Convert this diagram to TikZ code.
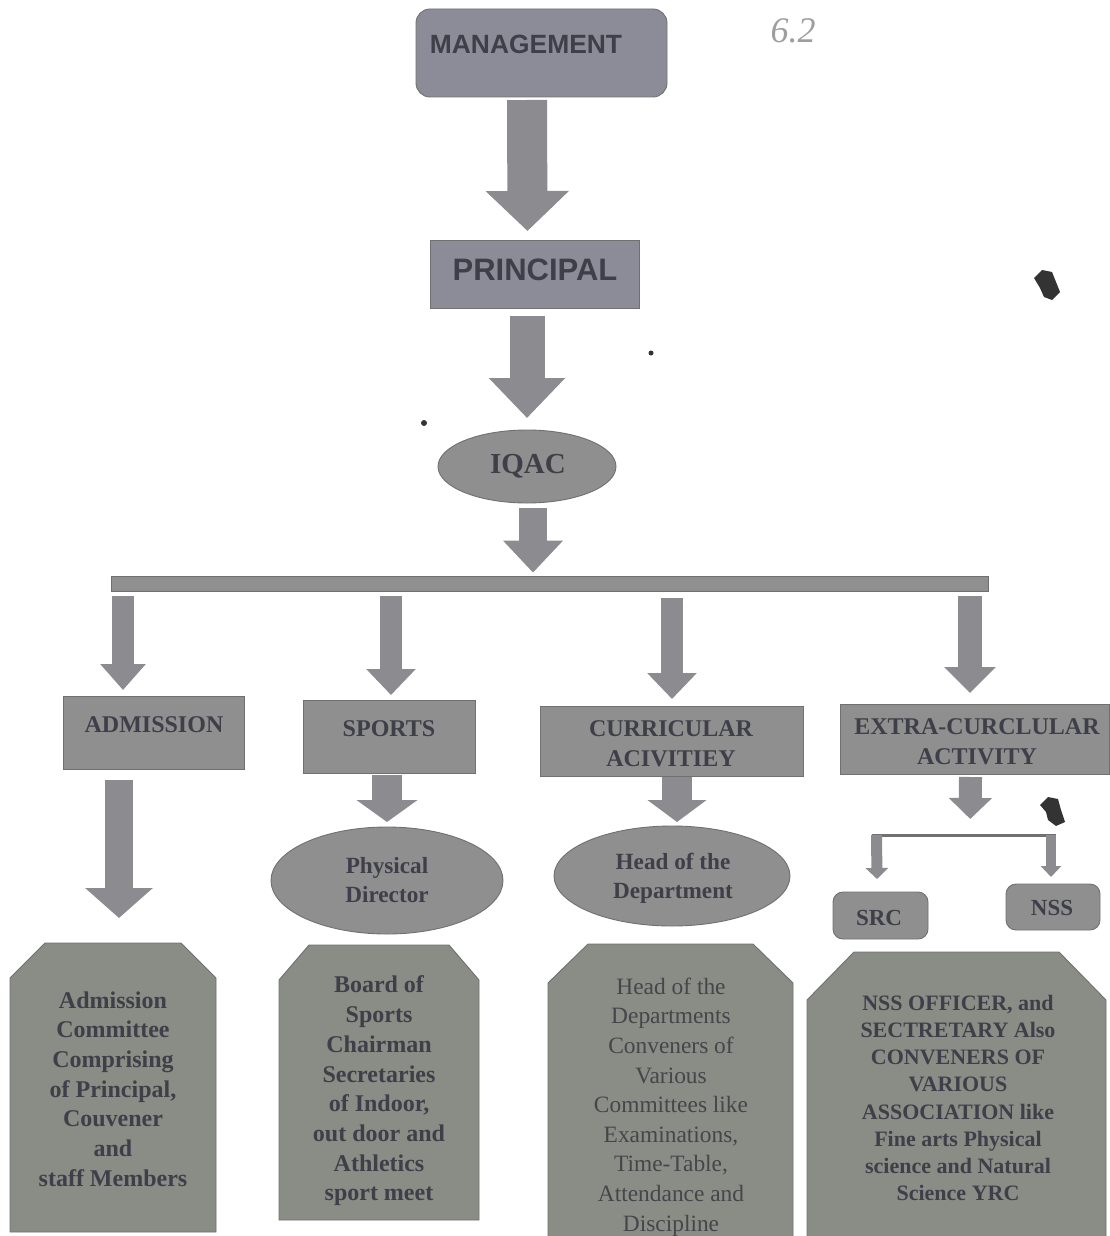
\documentclass[tikz,border=0pt]{standalone}
\usepackage{fontspec}
\setmainfont{Liberation Serif}
\newfontfamily\arialfont{Liberation Sans}
\usetikzlibrary{arrows.meta,calc,shapes.geometric}
\definecolor{mgfill}{HTML}{8C8C98}
\definecolor{boxfill}{HTML}{8F8F8F}
\definecolor{slabfill}{HTML}{8A8C86}
\definecolor{edgegray}{HTML}{707070}
\definecolor{arrowgray}{HTML}{8B8B90}
\definecolor{inkdark}{HTML}{3E3F48}
\definecolor{inkmid}{HTML}{45464A}
\tikzset{
  shp/.style={draw=edgegray,line width=0.45pt,inner sep=0pt,outer sep=0pt,text=inkdark},
  sq/.style n args={2}{shp,rectangle,fill=boxfill,minimum width=#1,minimum height=#2},
  rnd/.style n args={2}{shp,rectangle,rounded corners=5pt,fill=boxfill,minimum width=#1,minimum height=#2},
  oval/.style n args={2}{shp,ellipse,fill=boxfill,minimum width=#1,minimum height=#2},
  slabframe/.style n args={2}{rectangle,inner sep=0pt,outer sep=0pt,minimum width=#1,minimum height=#2},
  slabface/.style={draw=edgegray,line width=0.45pt,fill=slabfill},
  blk/.style n args={3}{draw=arrowgray,line width=#1,-{Triangle[width=#2,length=#3,fill=arrowgray]}},
  tbold/.style={text=inkdark,align=center,inner sep=0pt,font=\fontsize{12}{14.85}\selectfont\bfseries},
  treg/.style={text=inkmid,align=center,inner sep=0pt,font=\fontsize{11.7}{14.8}\selectfont},
  tsans/.style={text=inkdark,align=center,inner sep=0pt},
  blot/.style={fill=black!80,draw=none}
}
% tablet outline round a named frame: cut x, cut y in picture units
\newcommand{\slabface}[3]{%
  \path[slabface] (#1.south west) -- ($(#1.north west)+(0,#3)$) -- ($(#1.north west)+(#2,0)$)
     -- ($(#1.north east)+(-#2,0)$) -- ($(#1.north east)+(0,#3)$) -- (#1.south east) -- cycle;}
\begin{document}
\begin{tikzpicture}[x=0.5pt,y=-0.5pt]
\useasboundingbox (0,0) rectangle (1109,1236);
% top chain
\node[rnd={125.5pt}{44pt},fill=mgfill,rounded corners=7pt] (mgmt) at (541.5,53) {};
\node[tsans,font=\fontsize{13.2}{16}\selectfont\arialfont\bfseries] (mgmttxt) at (526,44) {MANAGEMENT};
\node[sq={104.5pt}{34pt},fill=mgfill] (princ) at (534.5,274) {};
\node[tsans,font=\fontsize{15.5}{18}\selectfont\arialfont\bfseries] (princtxt) at (535,270) {PRINCIPAL};
\node[oval={89pt}{36.5pt}] (iqac) at (527,466.5) {};
\node[tbold,font=\fontsize{14.5}{17}\selectfont\bfseries] (iqactxt) at (528,466) {IQAC};
\node[rectangle,fill=boxfill,draw=edgegray,line width=0.4pt,inner sep=0pt,minimum width=438.5pt,minimum height=7.5pt] (bar) at (549.5,583.5) {};
% headers
\node[sq={90.5pt}{36.5pt}] (adm) at (153.5,732.5) {};
\node[tbold] (admtxt) at (154,725) {ADMISSION};
\node[sq={86pt}{36.5pt}] (spo) at (389,736.5) {};
\node[tbold] (spotxt) at (389,729) {SPORTS};
\node[sq={131.5pt}{35pt}] (cur) at (671.5,741) {};
\node[tbold] (curtxt) at (671,744) {CURRICULAR\\ACIVITIEY};
\node[sq={134.5pt}{35pt}] (ext) at (974.5,739) {};
\node[tbold] (exttxt) at (977,742) {EXTRA-CURCLULAR\\ACTIVITY};
% second row
\node[oval={116pt}{53.5pt}] (phy) at (387,880.5) {};
\node[tbold,font=\fontsize{11.6}{14.5}\selectfont\bfseries] (phytxt) at (387,880) {Physical\\Director};
\node[oval={118pt}{50pt}] (hod) at (672,876) {};
\node[tbold,font=\fontsize{11.6}{14.5}\selectfont\bfseries] (hodtxt) at (673,878) {Head of the\\Department};
\node[rnd={47.5pt}{23.5pt}] (src) at (880.5,915.5) {};
\node[tbold,font=\fontsize{11.5}{14}\selectfont\bfseries] (srctxt) at (879,918) {SRC};
\node[rnd={47pt}{23pt}] (nss) at (1053,907) {};
\node[tbold,font=\fontsize{11.5}{14}\selectfont\bfseries] (nsstxt) at (1052,908) {NSS};
\coordinate (srctop) at (876.5,835);
\coordinate (nsstop) at (1051,835);
% tablets
\node[slabframe={103pt}{144.5pt}] (sa) at (113,1087.5) {};
\slabface{sa}{35}{35}
\node[tbold] (satxt) at (113,1089) {Admission\\Committee\\Comprising\\of Principal,\\Couvener\\and\\staff Members};
\node[slabframe={100pt}{137.5pt}] (sb) at (379,1082.5) {};
\slabface{sb}{30}{35}
\node[tbold] (sbtxt) at (379,1091) {Board of\\Sports\\Chairman\\Secretaries\\of Indoor,\\out door and\\Athletics\\sport meet};
\node[slabframe={122.5pt}{158pt}] (sc) at (670.5,1102) {};
\slabface{sc}{40}{39}
\node[treg] (sctxt) at (671,1107) {Head of the\\Departments\\Conveners of\\Various\\Committees like\\Examinations,\\Time-Table,\\Attendance and\\Discipline};
\node[slabframe={149.5pt}{154pt}] (sd) at (956.5,1106) {};
\slabface{sd}{47}{48}
\node[tbold,font=\fontsize{11}{13.6}\selectfont\bfseries] (sdtxt) at (958,1098) {NSS OFFICER, and\\SECTRETARY Also\\CONVENERS OF\\VARIOUS\\ASSOCIATION like\\Fine arts Physical\\science and Natural\\Science YRC};
% handwritten mark
\node[text=black!38,inner sep=0pt,font=\fontsize{18}{20}\selectfont\itshape] (hand) at (793,31) {6.2};
% block arrows
\draw[blk={20pt}{40.5pt}{20pt}] ($(mgmt.south)+(-14.5,3)$) -- ($(princ.north)+(-7,-9)$);
\draw[blk={17.5pt}{37pt}{20pt}] ($(princ.south)+(-7.5,8)$) -- ($(iqac.north)+(0,-12)$);
\draw[blk={14pt}{29pt}{16pt}] ($(iqac.south)+(6,5)$) -- ($(bar.north)+(-16.5,-3)$);
\draw[blk={11pt}{22pt}{13pt}] ($(bar.south)+(-426.5,5)$) -- ($(adm.north)+(-30.5,-6)$);
\draw[blk={11pt}{24pt}{13pt}] ($(bar.south)+(-158.5,5)$) -- ($(spo.north)+(2,-5)$);
\draw[blk={11pt}{24pt}{13pt}] ($(bar.south)+(122.5,7)$) -- ($(cur.north)+(0.5,-7)$);
\draw[blk={12pt}{25pt}{13pt}] ($(bar.south)+(420.5,5)$) -- ($(ext.north)+(-4.5,-11)$);
\draw[blk={14pt}{33pt}{15pt}] ($(adm.south)+(-34.5,11)$) -- ($(sa.north)+(6,-25)$);
\draw[blk={15pt}{30pt}{11pt}] ($(spo.south)+(-2,2)$) -- ($(phy.north)+(0,-5)$);
\draw[blk={15pt}{29pt}{11pt}] ($(cur.south)+(5.5,1)$) -- ($(hod.north)+(5,-4)$);
\draw[blk={11.5pt}{21pt}{10.5pt}] ($(ext.south)+(-4,3)$) -- ($($(srctop)!.5!(nsstop)$)+(6.5,-16)$);
\draw[draw=edgegray,line width=1.5pt] ($(srctop)+(-5,0)$) -- ($(nsstop)+(5,0)$);
\draw[blk={5.5pt}{11pt}{5.5pt}] (srctop) -- ($(src.north)+(-3.5,-13)$);
\draw[blk={5pt}{10pt}{5.5pt}] (nsstop) -- ($(nss.north)+(-2,-7)$);
% ink specks in the scan
\fill[blot] (1034,278) -- (1042,270) -- (1052,272) -- (1056,282) -- (1060,292) -- (1052,300) -- (1044,297) -- (1040,288) -- cycle;
\fill[blot] (1040,805) -- (1048,797) -- (1058,799) -- (1061,810) -- (1065,822) -- (1056,826) -- (1048,820) -- (1046,812) -- cycle;
\fill[blot] (424,423) circle (3);
\fill[blot] (651,353) circle (2.5);
\end{tikzpicture}
\end{document}
